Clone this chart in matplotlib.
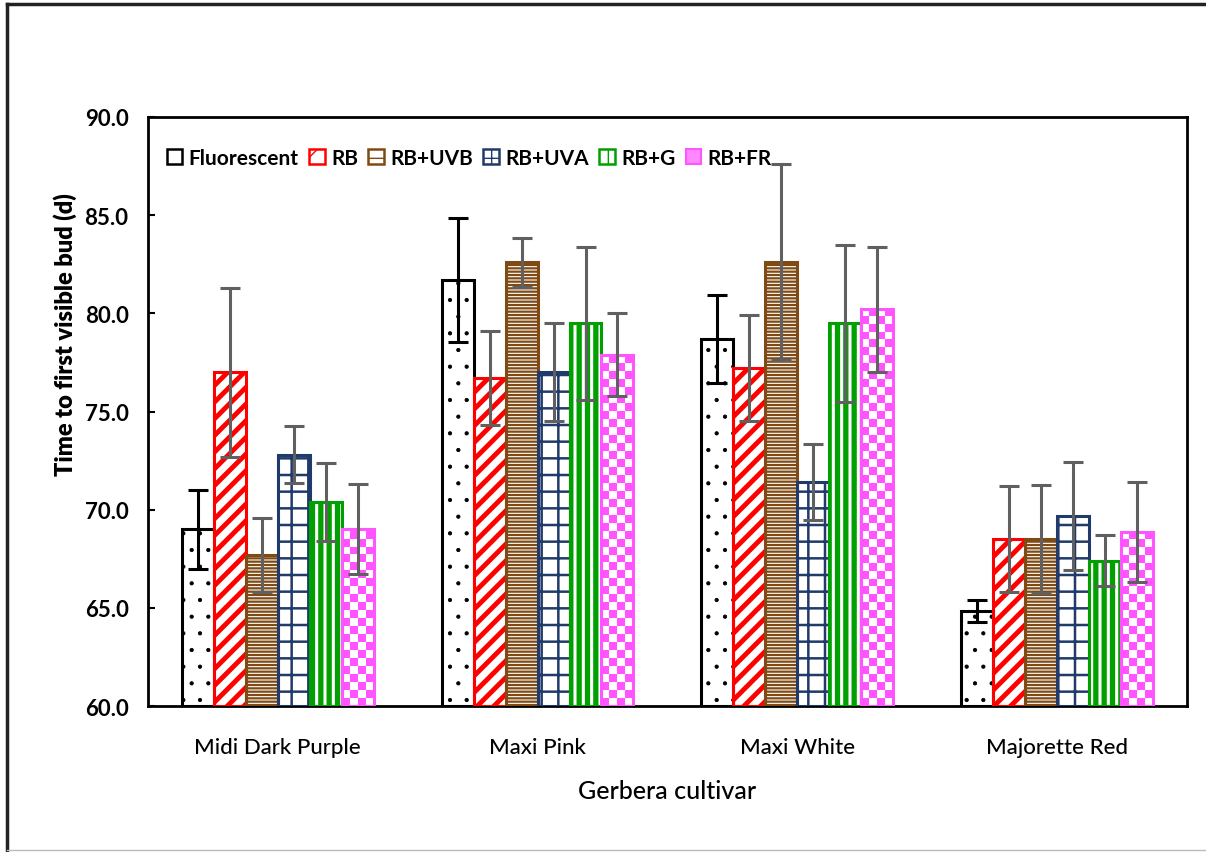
import numpy as np
import matplotlib
matplotlib.use('Agg')
from matplotlib import pyplot as plt
from matplotlib.patches import Patch
from matplotlib.lines import Line2D

# datos
cultivares = ['Midi Dark Purple', 'Maxi Pink', 'Maxi White', 'Majorette Red']
tratamientos = ['Fluorescent', 'RB', 'RB+UVB', 'RB+UVA', 'RB+G', 'RB+FR']

fluorescent = [69.0, 81.7, 78.7, 64.85]
rb = [77.0, 76.7, 77.2, 68.5]
rb_uvb = [67.7, 82.6, 82.6, 68.5]
rb_uva = [72.8, 77.0, 71.4, 69.7]
rb_g = [70.4, 79.5, 79.5, 67.4]
rb_fr = [69.0, 77.9, 80.2, 68.85]

err_fluorescent = [2.0, 3.15, 2.25, 0.55]
err_rb = [4.3, 2.4, 2.7, 2.7]
err_rb_uvb = [1.9, 1.25, 5.0, 2.75]
err_rb_uva = [1.45, 2.5, 1.95, 2.75]
err_rb_g = [2.0, 3.9, 4.0, 1.3]
err_rb_fr = [2.3, 2.1, 3.2, 2.55]

valores = [fluorescent, rb, rb_uvb, rb_uva, rb_g, rb_fr]
errores = [err_fluorescent, err_rb, err_rb_uvb, err_rb_uva, err_rb_g, err_rb_fr]

# estilos: (color borde, hatch, grosor hatch)
estilos = [
    ('black', '.', 0.6),
    ('#FF0000', '//', 3.5),
    ('#7F4A14', '-----', 1.6),
    ('#1F3A6B', '+', 1.8),
    ('#00A000', '||', 3.8),
    ('#FF55FF', None, 1.0),
]

fuente = ['Lato', 'DejaVu Sans']
plt.rcParams['font.family'] = fuente

fig = plt.figure(figsize=(12.06, 8.53), dpi=100)
ax = fig.add_axes([0.1227, 0.1711, 0.8615, 0.6906])

# tablero de ajedrez para RB+FR (relleno, recortado a cada barra)
tablero = np.indices((74, 4)).sum(axis=0) % 2
rosa = np.ones((74, 4, 3))
rosa[tablero == 1] = [1.0, 0.33, 1.0]

x = np.arange(len(cultivares))
ancho = 0.123
handles = []
for i, (vals, errs) in enumerate(zip(valores, errores)):
    borde, hatch, hlw = estilos[i]
    pos = x + (i - 2.5) * ancho
    alturas = np.array(vals) - 60
    with plt.rc_context({'hatch.linewidth': hlw}):
        barras = ax.bar(pos, alturas, ancho, bottom=60, color='white',
                        edgecolor=borde, hatch=hatch, linewidth=0, zorder=2)
    if hatch is None:
        for b in barras:
            x0, w = b.get_x(), b.get_width()
            im = ax.imshow(rosa, extent=(x0, x0 + w, 60, 90), aspect='auto',
                           interpolation='nearest', zorder=2)
            im.set_clip_path(b)
    ax.bar(pos, alturas, ancho, bottom=60, fill=False,
           edgecolor=borde, linewidth=2.2, zorder=3)
    ecol = 'black' if i == 0 else '#606060'
    ax.errorbar(pos, vals, yerr=errs, fmt='none', ecolor=ecol,
                elinewidth=2.2, capsize=7, capthick=2.2, zorder=4)
    if hatch is None:
        handles.append(Patch(facecolor='#FF88FF', edgecolor=borde, linewidth=1.5))
    else:
        with plt.rc_context({'hatch.linewidth': 1.0}):
            handles.append(Patch(facecolor='white', edgecolor=borde,
                                 hatch=hatch[:1] if hatch != '.' else '', linewidth=1.8))

ax.set_xlim(-0.5, 3.5)
ax.set_ylim(60, 90)
ax.set_yticks(np.arange(60, 91, 5))
ax.set_yticklabels(['%.1f' % v for v in np.arange(60, 91, 5)],
                   fontsize=16, fontweight='bold')
ax.set_xticks(x)
ax.set_xticklabels(cultivares, fontsize=16, fontweight='medium')
ax.tick_params(axis='x', length=0, pad=22)
ax.tick_params(axis='y', direction='in', length=5, width=1.5, pad=14)
for s in ax.spines.values():
    s.set_linewidth(2)

ax.set_ylabel('Time to first visible bud (d)', fontsize=17, fontweight='heavy')
ax.yaxis.set_label_coords(-0.068, 0.632)
ax.set_xlabel('Gerbera cultivar', fontsize=18, fontweight='medium', labelpad=16)

ax.legend(handles, tratamientos, loc='upper left', ncol=6, frameon=False,
          prop={'family': fuente, 'weight': 'bold', 'size': 15},
          handlelength=0.75, handleheight=0.75, handletextpad=0.3,
          columnspacing=0.5, bbox_to_anchor=(0.0, 0.98))

# marco exterior
fig.add_artist(Line2D([0.006, 1.0], [0.994, 0.994], transform=fig.transFigure,
                      color='#222222', linewidth=2.5))
fig.add_artist(Line2D([0.006, 0.006], [0.0, 0.994], transform=fig.transFigure,
                      color='#222222', linewidth=2.5))
fig.add_artist(Line2D([0.006, 1.0], [0.002, 0.002], transform=fig.transFigure,
                      color='#bbbbbb', linewidth=1))

fig.savefig('out.png', dpi=100)
